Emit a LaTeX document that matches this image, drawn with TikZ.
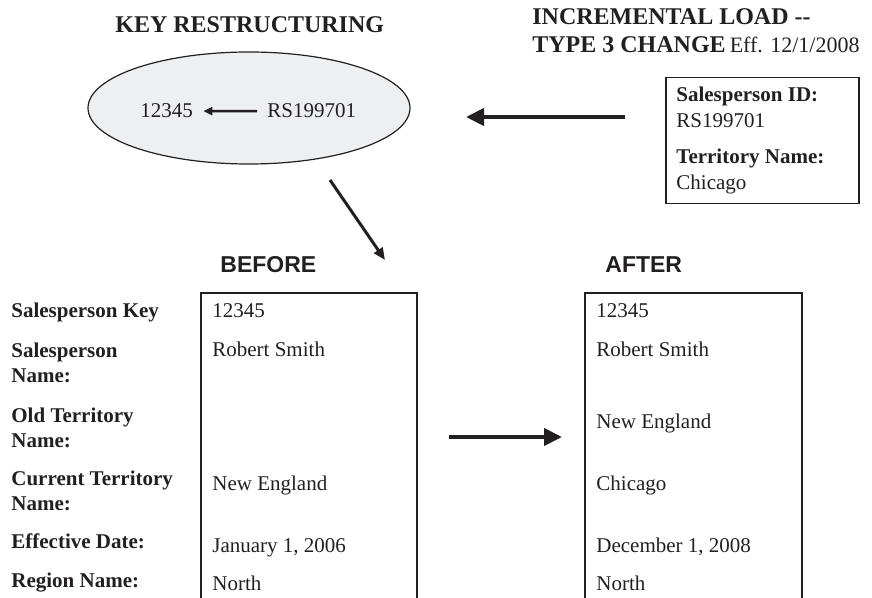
\documentclass[tikz,border=0pt]{standalone}
\usepackage{fontspec}
\setmainfont{Liberation Serif}
\newfontfamily\headsans{Liberation Sans}
\usetikzlibrary{arrows.meta,shapes.geometric}
\definecolor{inkgray}{HTML}{231F20}
\definecolor{ellgray}{HTML}{EEEFF1}

\begin{document}
\begin{tikzpicture}[x=0.5pt, y=-0.5pt,
	txt/.style={anchor=base west, inner sep=0pt, text=inkgray, align=left, font=\fontsize{10.5}{12.5}\selectfont},
	field/.style={txt, font=\fontsize{10.5}{12.5}\selectfont\bfseries},
	head/.style={txt, font=\fontsize{12}{14}\selectfont\bfseries},
	colhead/.style={txt, font=\fontsize{11.5}{14}\selectfont\headsans\bfseries},
	frame/.style={draw=inkgray, line width=0.75pt},
	bigarrow/.style={-{Triangle[length=9pt,width=8.5pt]}, line width=2pt, draw=inkgray}]
	\useasboundingbox (0,0) rectangle (872,598);
	\node[head] (keyhead) at (115,33) {KEY RESTRUCTURING};
	\node[head] (inchead) at (532,53) {INCREMENTAL LOAD -{}-\\TYPE 3 CHANGE\hspace{2pt}\textmd{\fontsize{11}{14}\selectfont Eff. 12/1/2008}};
	\node[ellipse, frame, line width=0.6pt, fill=ellgray, minimum width=161pt, minimum height=56pt, inner sep=0pt] (keyell) at (249,108) {};
	\node[txt] (oldkey) at (140,118) {12345};
	\node[txt] (newkey) at (267,118) {RS199701};
	\draw[-{Triangle[length=4.5pt,width=4pt]}, line width=1.2pt, draw=inkgray, shorten <=5pt, shorten >=5pt] (newkey.west) -- (oldkey.east);
	\node[frame, anchor=north west, minimum width=96.5pt, minimum height=63pt, inner sep=0pt] (srcbox) at (665,77) {};
	\node[txt, font=\fontsize{10.5}{13}\selectfont] (srcid) at (676,128) {\textbf{Salesperson ID:}\\RS199701};
	\node[txt, font=\fontsize{10.5}{13}\selectfont] (srcterr) at (676,190) {\textbf{Territory Name:}\\Chicago};
	\coordinate (incfrom) at (625,117);
	\coordinate (incto) at (466,117);
	\draw[bigarrow] (incfrom) -- (incto);
	\coordinate (keyfrom) at (330,180);
	\coordinate (keyto) at (385,260);
	\draw[-{Triangle[length=6pt,width=5pt]}, line width=1.5pt, draw=inkgray] (keyfrom) -- (keyto);
	\node[colhead] (before) at (220,273) {BEFORE};
	\node[colhead] (after) at (605,273) {AFTER};
	\draw[frame] (201,598) |- (417,293) -- (417,598);
	\draw[frame] (585,598) |- (802,293) -- (802,598);
	\foreach \y/\lbl in {318/Salesperson Key, 382/{Salesperson\\Name:}, 447/{Old Territory\\Name:}, 510/{Current Territory\\Name:}, 548/Effective Date:, 587/Region Name:}
		\node[field] (lbl-\y) at (11,\y) {\lbl};
	\foreach \y/\val in {318/12345, 357/Robert Smith, 490/New England, 552/{January 1, 2006}, 590/North}
		\node[txt] (bef-\y) at (212,\y) {\val};
	\foreach \y/\val in {318/12345, 357/Robert Smith, 428/New England, 490/Chicago, 552/{December 1, 2008}, 590/North}
		\node[txt] (aft-\y) at (596,\y) {\val};
	\coordinate (chgfrom) at (449,437);
	\coordinate (chgto) at (562,437);
	\draw[bigarrow] (chgfrom) -- (chgto);
\end{tikzpicture}
\end{document}
